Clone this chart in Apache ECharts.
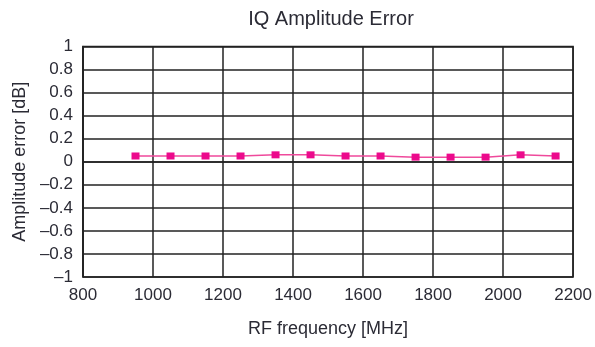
<!DOCTYPE html>
<html>
<head>
<meta charset="utf-8">
<script src="https://cdn.jsdelivr.net/npm/echarts@6/dist/echarts.min.js"></script>
<style>
  html, body { margin: 0; padding: 0; background: #fff; }
</style>
</head>
<body>
<div id="chart" style="width:595px;height:347px;"></div>
<script>
// RF frequency [MHz] of each measured point
const frequencies = [950, 1050, 1150, 1250, 1350, 1450, 1550, 1650, 1750, 1850, 1950, 2050, 2150]
// amplitude error [dB]
const amplitudeError = [0.05, 0.05, 0.05, 0.05, 0.06, 0.06, 0.05, 0.05, 0.04, 0.04, 0.04, 0.06, 0.05]

const textColor = '#2b2b35'
const gridColor = '#222'
const fontFamily = 'Liberation Sans, Arial, sans-serif'

// minus sign shown as en dash, as in the original
function fmtY (v) {
  const n = +v.toFixed(1)
  if (n < 0) return '\u2013' + Math.abs(n)
  return String(n)
}

const myChart = echarts.init(document.getElementById('chart'))
const option = {
  animation: false,
  title: {
    text: 'IQ Amplitude Error',
    left: 326,
    top: 4,
    textAlign: 'center',
    textStyle: { fontSize: 20, fontWeight: 'normal', color: textColor, fontFamily: fontFamily }
  },
  grid: {
    left: 83,
    right: 20,
    top: 46.5,
    bottom: 70,
    show: true,
    borderColor: gridColor,
    borderWidth: 1.5
  },
  xAxis: {
    type: 'value',
    min: 800,
    max: 2200,
    interval: 200,
    name: 'RF frequency [MHz]',
    nameLocation: 'middle',
    nameGap: 43,
    nameTextStyle: { fontSize: 18, color: textColor, fontFamily: fontFamily },
    axisLine: { show: true, lineStyle: { color: gridColor, width: 1.5 } },
    axisTick: { show: false },
    axisLabel: { fontSize: 17, color: textColor, fontFamily: fontFamily, margin: 10, formatter: v => String(v) },
    splitLine: { show: true, lineStyle: { color: gridColor, width: 1.5 } }
  },
  yAxis: {
    type: 'value',
    min: -1,
    max: 1,
    interval: 0.2,
    name: 'Amplitude error [dB]',
    nameLocation: 'middle',
    nameGap: 54,
    nameTextStyle: { fontSize: 18, color: textColor, fontFamily: fontFamily },
    axisLine: { show: true, lineStyle: { color: gridColor, width: 1.5 } },
    axisTick: { show: false },
    axisLabel: { fontSize: 17, color: textColor, fontFamily: fontFamily, margin: 10, formatter: fmtY },
    splitLine: { show: true, lineStyle: { color: gridColor, width: 1.5 } }
  },
  series: [
    {
      type: 'line',
      data: frequencies.map((f, i) => [f, amplitudeError[i]]),
      symbol: 'rect',
      symbolSize: [8, 7],
      itemStyle: { color: '#ec0a8c' },
      lineStyle: { color: '#ef4a9c', width: 1.5 }
    }
  ]
}
myChart.setOption(option)
</script>
</body>
</html>
